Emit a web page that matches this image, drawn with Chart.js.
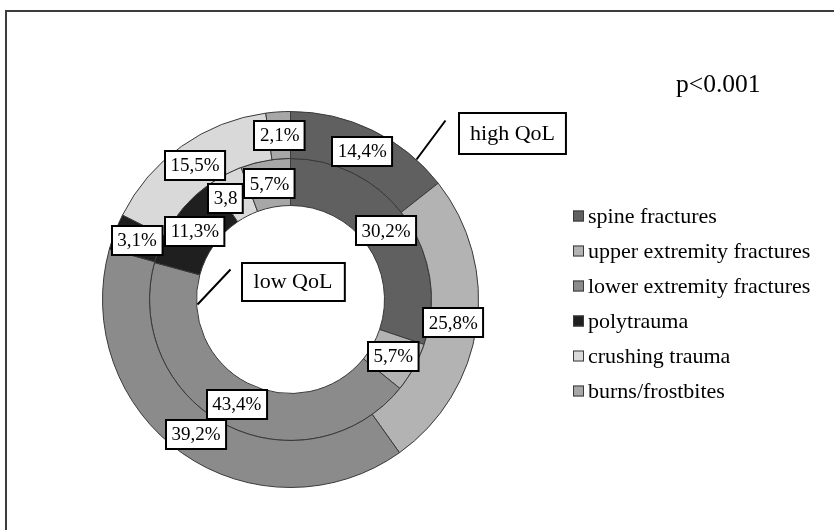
<!DOCTYPE html>
<html>
<head>
<meta charset="utf-8">
<title>Injury type by quality of life</title>
<script src="https://cdn.jsdelivr.net/npm/chart.js@4/dist/chart.umd.min.js"></script>
<style>
  html, body { margin: 0; padding: 0; background: #ffffff; }
  canvas { display: block; }
</style>
</head>
<body>
<canvas id="chart" width="834" height="530"></canvas>
<script>
// Injury categories
const categories = [
  'spine fractures',
  'upper extremity fractures',
  'lower extremity fractures',
  'polytrauma',
  'crushing trauma',
  'burns/frostbites'
];

// Share of patients (%) in each group
const highQoL = [14.4, 25.8, 39.2, 3.1, 15.5, 2.1];
const lowQoL  = [30.2, 5.7, 43.4, 11.3, 3.8, 5.7];

// Unit printed after each value label
const highQoLUnits = ['%', '%', '%', '%', '%', '%'];
const lowQoLUnits  = ['%', '%', '%', '%', '', '%'];

const seriesNames = ['high QoL', 'low QoL'];
const note = 'p<0.001';

const fills = ['#606060', '#b3b3b3', '#8b8b8b', '#1f1f1f', '#d9d9d9', '#a7a7a7'];
const SERIF = '"Liberation Serif", "Times New Roman", serif';

// Small shifts for labels that would otherwise collide, keyed "dataset:index"
const labelNudges = { '1:4': [-11, 3] };

function fmt(v, unit) {
  return v.toFixed(1).replace('.', ',') + unit;
}

function boxedText(ctx, text, cx, cy, font, padX, h) {
  ctx.font = font;
  const w = ctx.measureText(text).width + padX * 2;
  const x = Math.round(cx - w / 2), y = Math.round(cy - h / 2);
  ctx.fillStyle = '#ffffff';
  ctx.fillRect(x, y, w, h);
  ctx.lineWidth = 2;
  ctx.strokeStyle = '#000000';
  ctx.strokeRect(x, y, w, h);
  ctx.fillStyle = '#000000';
  ctx.textAlign = 'center';
  ctx.textBaseline = 'middle';
  ctx.fillText(text, cx, cy + 1);
}

// Frame around the figure
const framePlugin = {
  id: 'frame',
  beforeDraw(chart) {
    const ctx = chart.ctx;
    ctx.save();
    ctx.fillStyle = '#ffffff';
    ctx.fillRect(0, 0, chart.width, chart.height);
    ctx.strokeStyle = '#3c3c3c';
    ctx.lineWidth = 2;
    ctx.strokeRect(6, 11, chart.width + 20, chart.height + 20);
    ctx.restore();
  }
};

// Boxed value labels placed at each slice centre
const valueLabels = {
  id: 'valueLabels',
  afterDatasetsDraw(chart) {
    const ctx = chart.ctx;
    const units = [highQoLUnits, lowQoLUnits];
    ctx.save();
    chart.data.datasets.forEach((ds, di) => {
      const meta = chart.getDatasetMeta(di);
      meta.data.forEach((arc, i) => {
        const p = arc.tooltipPosition();
        const n = labelNudges[di + ':' + i] || [0, 0];
        boxedText(ctx, fmt(ds.data[i], units[di][i]), p.x + n[0], p.y + n[1], '19px ' + SERIF, 5.5, 29);
      });
    });
    ctx.restore();
  }
};

// Series callouts, note and legend
const decorations = {
  id: 'decorations',
  afterDraw(chart) {
    const ctx = chart.ctx;
    const outer = chart.getDatasetMeta(0).data[0];
    const cx = outer.x, cy = outer.y;
    ctx.save();

    // leader lines
    ctx.strokeStyle = '#000000';
    ctx.lineWidth = 2;
    ctx.beginPath();
    ctx.moveTo(cx + 126, cy - 140);
    ctx.lineTo(cx + 155, cy - 179);
    ctx.moveTo(cx - 93, cy + 5);
    ctx.lineTo(cx - 60, cy - 30);
    ctx.stroke();

    boxedText(ctx, chart.data.datasets[0].label, 512.5, 133, '22px ' + SERIF, 11, 41);
    boxedText(ctx, chart.data.datasets[1].label, 293, 281.5, '22px ' + SERIF, 12, 38);

    // significance note
    ctx.fillStyle = '#000000';
    ctx.font = '25.5px ' + SERIF;
    ctx.textAlign = 'left';
    ctx.textBaseline = 'middle';
    ctx.fillText(note, 676, 85);

    // legend
    ctx.font = '22px ' + SERIF;
    chart.data.labels.forEach((lab, i) => {
      const y = 216 + i * 35;
      ctx.fillStyle = fills[i];
      ctx.fillRect(573, y - 5.5, 11, 11);
      ctx.strokeStyle = '#3a3a3a';
      ctx.lineWidth = 1;
      ctx.strokeRect(573.5, y - 5, 10, 10);
      ctx.fillStyle = '#000000';
      ctx.fillText(lab, 588, y + 1);
    });
    ctx.restore();
  }
};

new Chart(document.getElementById('chart'), {
  type: 'doughnut',
  data: {
    labels: categories,
    datasets: [
      { label: seriesNames[0], data: highQoL, backgroundColor: fills, borderColor: '#3a3a3a', borderWidth: 1 },
      { label: seriesNames[1], data: lowQoL, backgroundColor: fills, borderColor: '#3a3a3a', borderWidth: 1 }
    ]
  },
  options: {
    responsive: false,
    animation: false,
    cutout: '50%',
    layout: { padding: { left: 102, right: 355, top: 111, bottom: 42 } },
    plugins: {
      legend: { display: false },
      tooltip: { enabled: false }
    }
  },
  plugins: [framePlugin, valueLabels, decorations]
});
</script>
</body>
</html>
